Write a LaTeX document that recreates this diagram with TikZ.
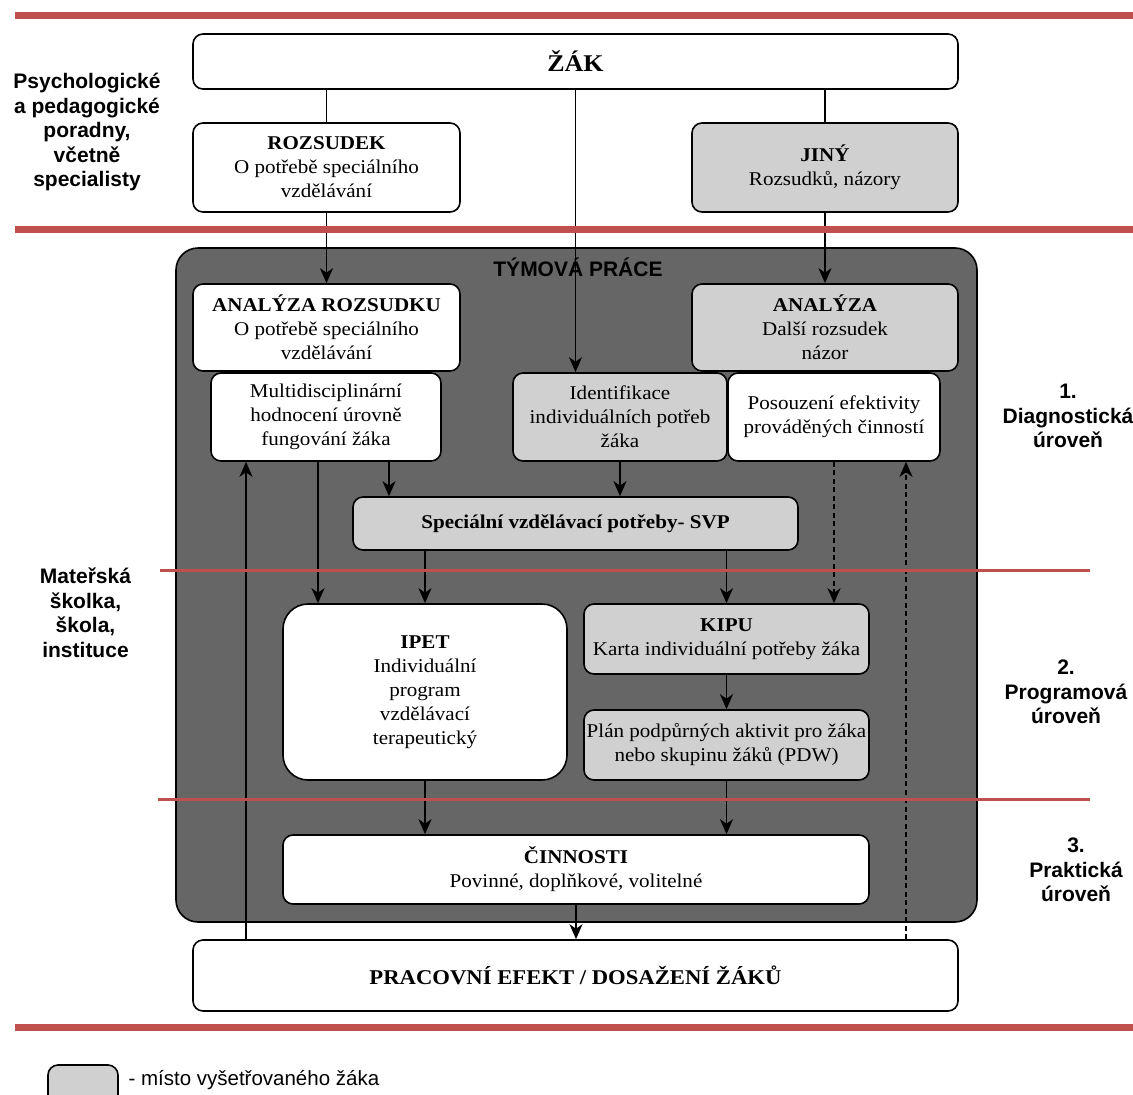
\documentclass[tikz,border=0pt]{standalone}
\usepackage{fontspec}
\setmainfont{Liberation Serif}[FakeStretch=1.08]
\newfontfamily\labelfont{Liberation Sans}
\usetikzlibrary{arrows.meta}
\definecolor{rule}{RGB}{192,80,77}
\definecolor{panel}{RGB}{102,102,102}
\definecolor{shade}{RGB}{208,208,208}
\begin{document}
\begin{tikzpicture}[x=1pt,y=-1pt,
  box/.style={draw, line width=1.6pt, rounded corners=10pt, fill=white, align=center,
    inner sep=0pt, font=\fontsize{19.5}{24}\selectfont},
  gbox/.style={box, fill=shade},
  conn/.style={line width=1.8pt},
  arr/.style={conn, -{Stealth[length=15pt,width=13pt,inset=4.5pt]}},
  darr/.style={arr, dash pattern=on 5pt off 3.5pt},
  thickrule/.style={rule, line width=7pt},
  thinrule/.style={rule, line width=3pt},
  side/.style={align=center, font=\labelfont\bfseries\fontsize{21}{24.5}\selectfont},
]
\useasboundingbox (0,0) rectangle (1133,1095);

% team panel
\node[draw, line width=1.6pt, fill=panel, rounded corners=22pt, inner sep=0pt,
  minimum width=801pt, minimum height=674pt] (team) at (576.5,585) {};
\node[font=\labelfont\bfseries\fontsize{21}{24}\selectfont] (teamlabel) at (578,267) {TÝMOVÁ PRÁCE};

% boxes
\node[box, minimum width=765pt, minimum height=55pt, font=\bfseries\fontsize{24}{28}\selectfont]
  (zak) at (575.5,61.5) {ŽÁK};
\node[box, minimum width=267pt, minimum height=89pt] (rozs) at (326.5,167.5)
  {\textbf{ROZSUDEK}\\O potřebě speciálního\\vzdělávání};
\node[gbox, minimum width=266pt, minimum height=89pt] (jiny) at (825,167.5)
  {\textbf{JINÝ}\\Rozsudků, názory};
\node[box, minimum width=267pt, minimum height=87pt] (anrozs) at (326.5,327.5)
  {\textbf{ANALÝZA ROZSUDKU}\\O potřebě speciálního\\vzdělávání};
\node[gbox, minimum width=266pt, minimum height=87pt] (anal) at (825,327.5)
  {\textbf{ANALÝZA}\\Další rozsudek\\názor};
\node[box, minimum width=230pt, minimum height=88pt] (multi) at (326,417)
  {Multidisciplinární\\hodnocení úrovně\\fungování žáka};
\node[gbox, minimum width=214pt, minimum height=88pt] (ident) at (620,417)
  {Identifikace\\individuálních potřeb\\žáka};
\node[box, minimum width=212pt, minimum height=88pt] (posou) at (834,417)
  {Posouzení efektivity\\prováděných činností};
\node[gbox, minimum width=445pt, minimum height=53pt] (svp) at (575.5,523.5)
  {\textbf{Speciální vzdělávací potřeby- SVP}};
\node[box, rounded corners=25pt, minimum width=284pt, minimum height=176pt] (ipet) at (425,692)
  {\textbf{IPET}\\Individuální\\program\\vzdělávací\\terapeutický};
\node[gbox, minimum width=285pt, minimum height=70pt] (kipu) at (726.5,639)
  {\textbf{KIPU}\\Karta individuální potřeby žáka};
\node[gbox, minimum width=285pt, minimum height=70pt] (plan) at (726.5,745)
  {Plán podpůrných aktivit pro žáka\\nebo skupinu žáků (PDW)};
\node[box, minimum width=586pt, minimum height=69pt] (cinn) at (576,869.5)
  {\textbf{ČINNOSTI}\\Povinné, doplňkové, volitelné};
\node[box, minimum width=765pt, minimum height=71pt, font=\bfseries\fontsize{21}{26}\selectfont]
  (prac) at (575.5,975.5) {PRACOVNÍ EFEKT / DOSAŽENÍ ŽÁKŮ};

% columns of the vertical connectors
\coordinate (colA) at (318,0);
\coordinate (colB) at (389,0);
\coordinate (colL) at (246,0);
\coordinate (colR) at (906,0);

% connectors
\draw[conn] (zak.south -| rozs.north) -- (rozs.north);
\draw[arr] (rozs.south) -- (anrozs.north);
\draw[arr] (zak.south) -- (ident.north -| zak.south);
\draw[conn] (zak.south -| jiny.north) -- (jiny.north);
\draw[arr] (jiny.south) -- (anal.north);
\draw[arr] (multi.south -| colA) -- (ipet.north -| colA);
\draw[arr] (multi.south -| colB) -- (svp.north -| colB);
\draw[arr] (ident.south) -- (svp.north -| ident.south);
\draw[arr] (svp.south -| ipet.north) -- (ipet.north);
\draw[arr] (svp.south -| kipu.north) -- (kipu.north);
\draw[darr] (posou.south) -- (kipu.north -| posou.south);
\draw[arr] (kipu.south) -- (plan.north);
\draw[arr] (ipet.south) -- (cinn.north -| ipet.south);
\draw[arr] (plan.south) -- (cinn.north -| plan.south);
\draw[arr] (cinn.south) -- (prac.north -| cinn.south);
\draw[arr] (prac.north -| colL) -- (multi.south -| colL);
\draw[darr] (prac.north -| colR) -- (posou.south -| colR);

% level separators
\draw[thickrule] (15,15) -- (1133,15);
\draw[thickrule] (15,229) -- (1133,229);
\draw[thickrule] (15,1027) -- (1133,1027);
\draw[thinrule] (160,570) -- (1090,570);
\draw[thinrule] (158,799) -- (1090,799);

% side labels
\node[side] (lab1) at (87,132) {Psychologické\\a pedagogické\\poradny,\\včetně\\specialisty};
\node[side] (lab2) at (85.5,613) {Mateřská\\školka,\\škola,\\instituce};
\node[side] (lev1) at (1068,416) {1.\\Diagnostická\\úroveň};
\node[side] (lev2) at (1066,692) {2.\\Programová\\úroveň};
\node[side] (lev3) at (1076,870) {3.\\Praktická\\úroveň};

% legend
\node[gbox, minimum width=70pt, minimum height=45pt] (legend) at (83,1087.5) {};
\node[anchor=west, font=\labelfont\fontsize{20.5}{24}\selectfont] (legtext) at (125,1080)
  {- místo vyšetřovaného žáka};
\end{tikzpicture}
\end{document}
